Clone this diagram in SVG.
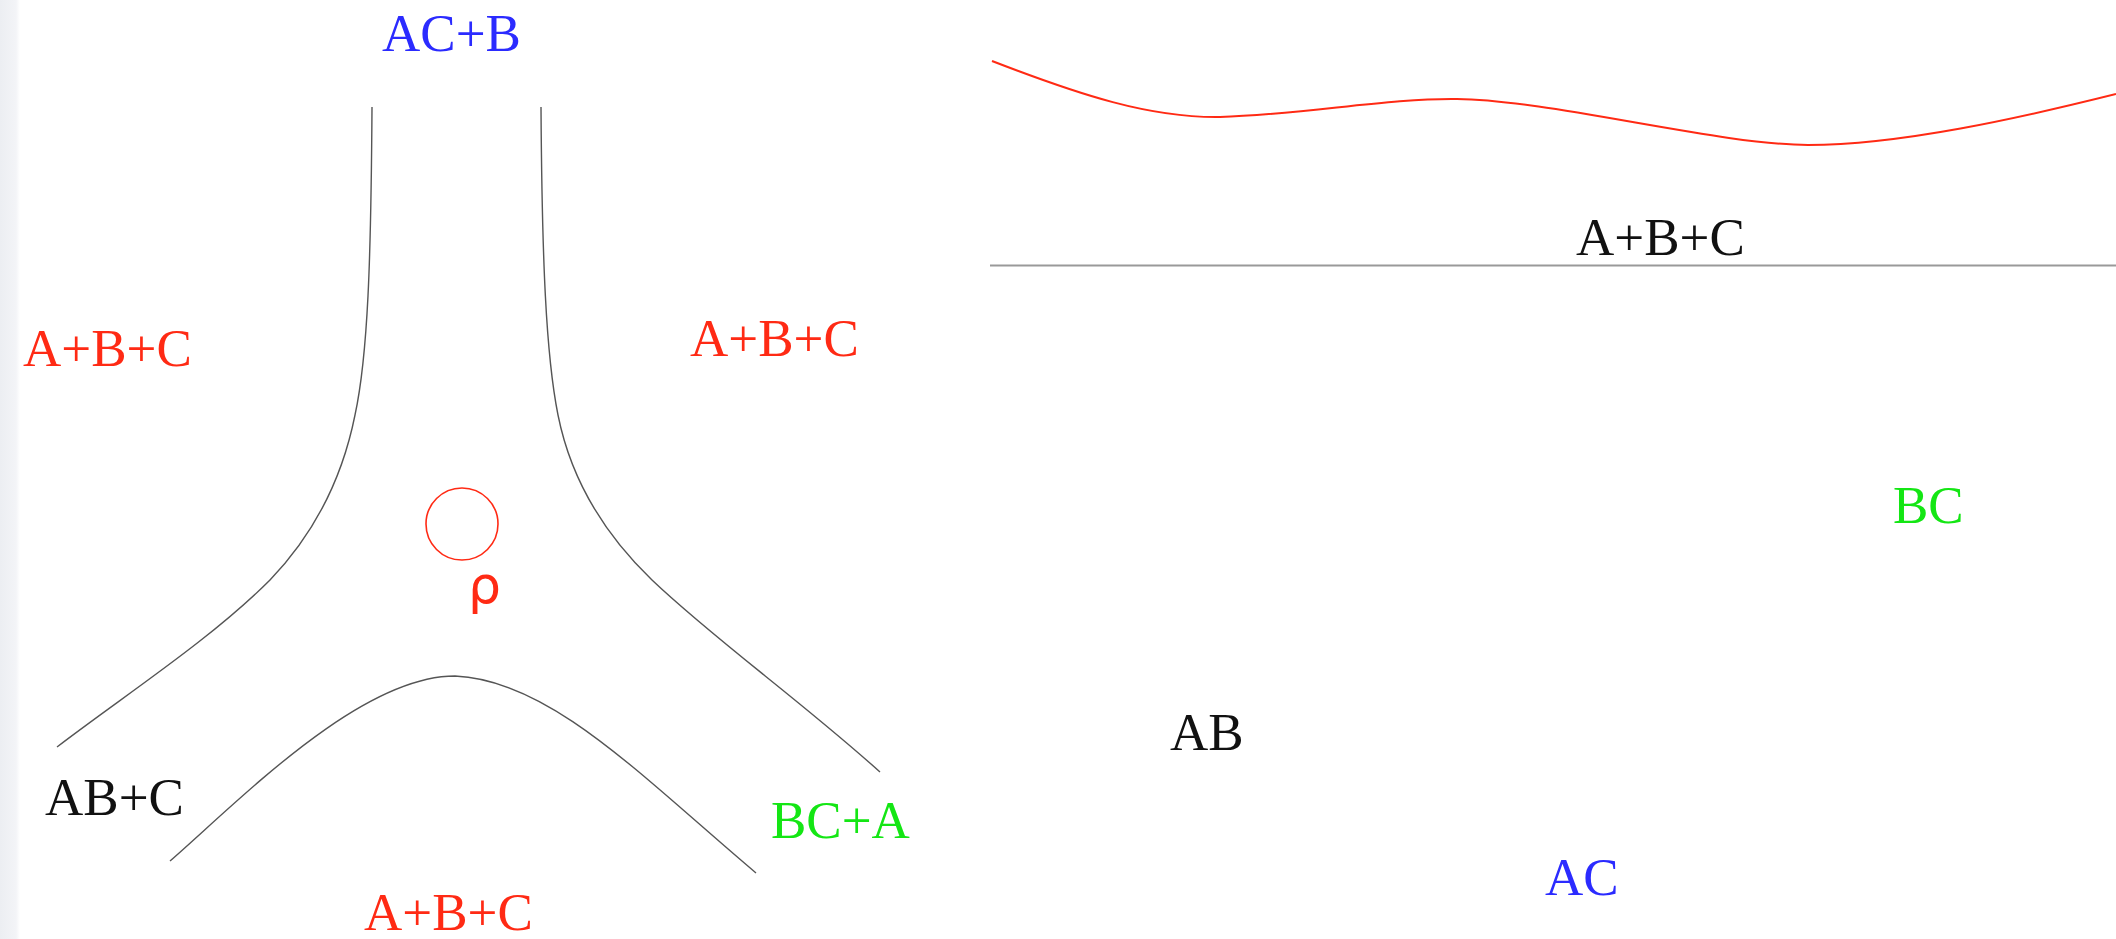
<svg xmlns="http://www.w3.org/2000/svg" width="2116" height="939" viewBox="0 0 2116 939">
  <defs>
    <linearGradient id="edge" x1="0" y1="0" x2="1" y2="0">
      <stop offset="0" stop-color="#eceef2"/>
      <stop offset="0.8" stop-color="#f3f4f7"/>
      <stop offset="1" stop-color="#ffffff"/>
    </linearGradient>
    <style>
      text { font-family: "Liberation Serif", "Times New Roman", serif; font-size: 53px; }
      .red { fill: #ff2a14; }
      .blue { fill: #2b2bff; }
      .green { fill: #14e614; }
      .black { fill: #111111; }
      .curve { fill: none; stroke: #555555; stroke-width: 1.4; }
    </style>
  </defs>
  <rect x="0" y="0" width="2116" height="939" fill="#ffffff"/>
  <rect x="0" y="0" width="20" height="939" fill="url(#edge)"/>

  <g id="connectors">
    <path class="curve" d="M372,107 C371,260 368,355 355,415 C343,475 318,530 270,580 C210,640 125,695 57,747"/>
    <path class="curve" d="M541,107 C542,260 546,355 558,415 C570,475 600,530 652,580 C715,640 800,700 880,772"/>
    <path class="curve" d="M170,861 C240,800 360,676 455,676 C550,680 640,775 756,873"/>
    <path d="M992,61 C1080,95 1150,118 1220,117 C1300,115 1390,98 1457,99 C1550,100 1720,145 1808,145 C1900,145 2020,118 2116,94" fill="none" stroke="#ff2a14" stroke-width="2"/>
    <line x1="990" y1="265.5" x2="2116" y2="265.5" stroke="#999999" stroke-width="2"/>
  </g>

  <g id="node-top"><text class="blue" x="382" y="51">AC+B</text></g>
  <g id="node-left"><text class="red" x="23" y="366">A+B+C</text></g>
  <g id="node-right"><text class="red" x="690" y="356">A+B+C</text></g>
  <g id="node-rho">
    <circle cx="462" cy="524" r="36" fill="none" stroke="#ff2a14" stroke-width="1.6"/>
    <text class="red" x="468" y="603" style="font-family: 'DejaVu Sans', 'Liberation Sans', sans-serif; font-size: 52px;">ρ</text>
  </g>
  <g id="node-abc"><text class="black" x="45" y="815">AB+C</text></g>
  <g id="node-bca"><text class="green" x="771" y="838">BC+A</text></g>
  <g id="node-bottom"><text class="red" x="364" y="930">A+B+C</text></g>

  <g id="node-right-abc"><text class="black" x="1576" y="255">A+B+C</text></g>
  <g id="node-bc"><text class="green" x="1893" y="523">BC</text></g>
  <g id="node-ab"><text class="black" x="1170" y="750">AB</text></g>
  <g id="node-ac"><text class="blue" x="1545" y="895">AC</text></g>
</svg>
